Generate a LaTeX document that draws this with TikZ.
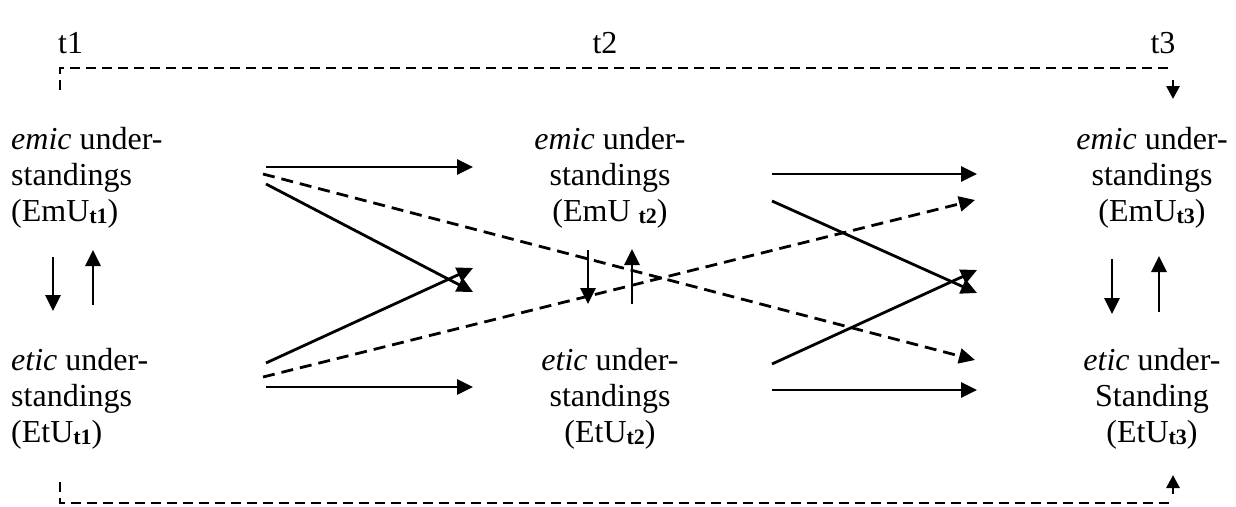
\documentclass[tikz,border=0pt]{standalone}
\usepackage{fontspec}
\setmainfont{Liberation Serif}
\usetikzlibrary{arrows.meta}
% small bold time index set just below the baseline
\newcommand\tsub[1]{\raisebox{-2pt}{\fontsize{22}{22}\selectfont\bfseries #1}}

\begin{document}
\begin{tikzpicture}[x=1pt,y=-1pt,
  every node/.style={inner sep=0pt, font=\fontsize{32}{36}\selectfont},
  flow/.style={line width=2.8pt, -{Triangle[length=16pt,width=15pt]}},
  crossflow/.style={flow, dash pattern=on 12pt off 7pt},
  frameline/.style={line width=1.9pt, dash pattern=on 10pt off 6pt},
  shortflow/.style={line width=2.8pt, -{Triangle[length=13pt,width=13pt]}},
  leftblock/.style={anchor=north west, align=left},
  midblock/.style={anchor=north, align=center}
]
\useasboundingbox (0,0) rectangle (1236,506);

% time labels
\node[anchor=base west] (t1) at (58,53) {t1};
\node[anchor=base] (t2) at (605,53) {t2};
\node[anchor=base] (t3) at (1163,53) {t3};

% understandings at t1, t2, t3
\node[leftblock] (em1) at (11,127) {\emph{emic} under-\\standings\\(EmU\tsub{t1})};
\node[leftblock] (et1) at (11,348) {\emph{etic} under-\\standings\\(EtU\tsub{t1})};
\node[midblock] (em2) at (610,127) {\emph{emic} under-\\standings\\(EmU \tsub{t2})};
\node[midblock] (et2) at (610,348) {\emph{etic} under-\\standings\\(EtU\tsub{t2})};
\node[midblock] (em3) at (1152,127) {\emph{emic} under-\\standings\\(EmU\tsub{t3})};
\node[midblock] (et3) at (1152,348) {\emph{etic} under-\\Standing\\(EtU\tsub{t3})};

% end points of the connectors
\coordinate (a1s) at (266,167);  \coordinate (a1e) at (473,167);
\coordinate (a2s) at (266,184);  \coordinate (a2e) at (473,292);
\coordinate (a3s) at (266,363);  \coordinate (a3e) at (473,268);
\coordinate (a4s) at (266,387);  \coordinate (a4e) at (473,387);
\coordinate (d1s) at (263,174);  \coordinate (d1e) at (975,360);
\coordinate (d2s) at (263,377);  \coordinate (d2e) at (975,200);
\coordinate (b1s) at (772,174);  \coordinate (b1e) at (977,174);
\coordinate (b2s) at (772,201);  \coordinate (b2e) at (977,293);
\coordinate (b3s) at (772,364);  \coordinate (b3e) at (977,270);
\coordinate (b4s) at (772,390);  \coordinate (b4e) at (977,390);

% t1 -> t2
\draw[flow] (a1s) -- (a1e);
\draw[flow] (a2s) -- (a2e);
\draw[flow] (a3s) -- (a3e);
\draw[flow] (a4s) -- (a4e);
% t1 -> t3
\draw[crossflow] (d1s) -- (d1e);
\draw[crossflow] (d2s) -- (d2e);
% t2 -> t3
\draw[flow] (b1s) -- (b1e);
\draw[flow] (b2s) -- (b2e);
\draw[flow] (b3s) -- (b3e);
\draw[flow] (b4s) -- (b4e);

% emic <-> etic within each time
\coordinate (v1a) at (53,257);   \coordinate (v1b) at (53,311);
\coordinate (v2a) at (93,305);   \coordinate (v2b) at (93,250);
\coordinate (v3a) at (588,250);  \coordinate (v3b) at (588,304);
\coordinate (v4a) at (632,304);  \coordinate (v4b) at (632,249);
\coordinate (v5a) at (1112,259); \coordinate (v5b) at (1112,314);
\coordinate (v6a) at (1159,312); \coordinate (v6b) at (1159,256);
\draw[flow] (v1a) -- (v1b);
\draw[flow] (v2a) -- (v2b);
\draw[flow] (v3a) -- (v3b);
\draw[flow] (v4a) -- (v4b);
\draw[flow] (v5a) -- (v5b);
\draw[flow] (v6a) -- (v6b);

% long feedback frames from t1 to t3
\coordinate (ft0) at (60,90);  \coordinate (ft1) at (60,68);  \coordinate (ft2) at (1173,68);
\coordinate (fb0) at (60,482); \coordinate (fb1) at (60,503); \coordinate (fb2) at (1173,503);
\draw[frameline] (ft0) -- (ft1) -- (ft2);
\draw[frameline] (fb0) -- (fb1) -- (fb2);
\coordinate (ta) at (1173,80);  \coordinate (tb) at (1173,99);
\coordinate (ba) at (1173,494); \coordinate (bb) at (1173,475);
\draw[shortflow] (ta) -- (tb);
\draw[shortflow] (ba) -- (bb);
\end{tikzpicture}
\end{document}
